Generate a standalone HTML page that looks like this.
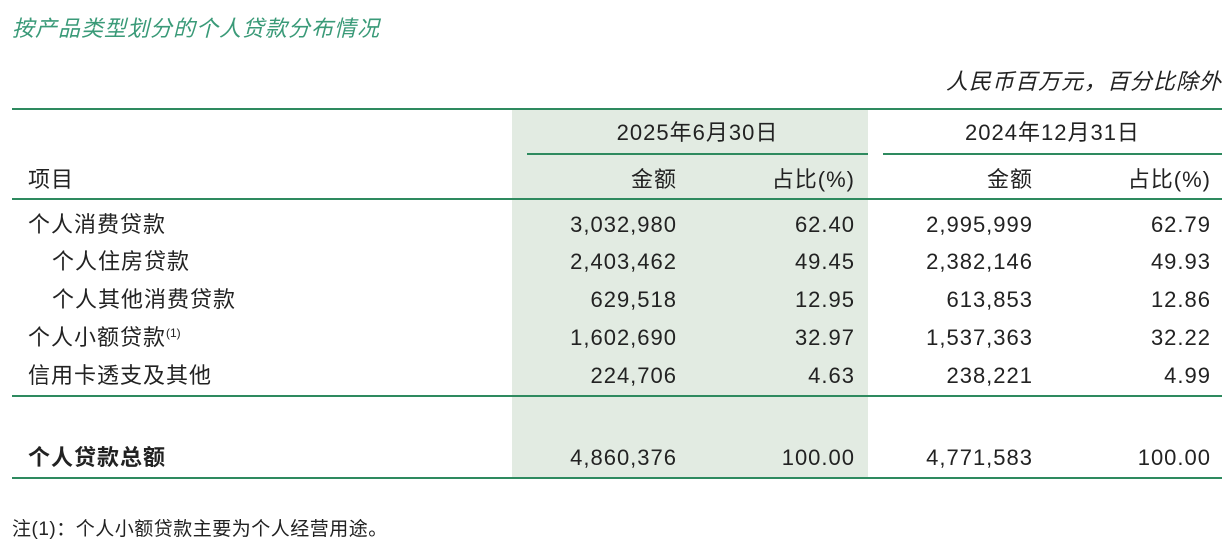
<!DOCTYPE html>
<html><head><meta charset="utf-8"><style>
body{margin:0;width:1230px;height:544px;background:#fff;position:relative;overflow:hidden;font-family:"Liberation Sans","Noto Sans CJK SC",sans-serif;color:#222;font-size:22px;letter-spacing:1px}
.a{position:absolute;white-space:nowrap;line-height:24px}
.r{text-align:right}
.l{position:absolute;height:2px;background:#2e8a5f}
sup{font-size:12px;line-height:0;vertical-align:8px;letter-spacing:0}
</style></head><body>
<div class="a" style="left:12px;top:17px;color:#3a9a78;font-style:italic;font-size:22px">按产品类型划分的个人贷款分布情况</div>
<div class="a" style="right:8px;top:70px;font-style:italic;font-size:22px;letter-spacing:1px">人民币百万元，百分比除外</div>
<div style="position:absolute;left:512px;top:110px;width:356px;height:368px;background:#e2ebe2"></div>
<div class="l" style="left:12px;top:108px;width:1210px"></div>
<div class="l" style="left:527px;top:153px;width:341px"></div>
<div class="l" style="left:883px;top:153px;width:339px"></div>
<div class="l" style="left:12px;top:198px;width:1210px"></div>
<div class="l" style="left:12px;top:395px;width:1210px"></div>
<div class="l" style="left:12px;top:477px;width:1210px"></div>
<div class="a" style="left:527px;width:341px;top:121px;text-align:center">2025年6月30日</div>
<div class="a" style="left:883px;width:339px;top:121px;text-align:center">2024年12月31日</div>
<div class="a" style="left:28px;top:168px">项目</div>
<div class="a r" style="right:553px;top:168px">金额</div>
<div class="a r" style="right:375px;top:168px">占比(%)</div>
<div class="a r" style="right:197px;top:168px">金额</div>
<div class="a r" style="right:19px;top:168px">占比(%)</div>

<div class="a" style="left:28px;top:213px">个人消费贷款</div>
<div class="a" style="left:52px;top:250px">个人住房贷款</div>
<div class="a" style="left:52px;top:288px">个人其他消费贷款</div>
<div class="a" style="left:28px;top:326px">个人小额贷款<sup>(1)</sup></div>
<div class="a" style="left:28px;top:364px">信用卡透支及其他</div>
<div class="a" style="left:28px;top:446px;font-weight:bold">个人贷款总额</div>

<div class="a r" style="right:553px;top:213px">3,032,980</div><div class="a r" style="right:375px;top:213px">62.40</div><div class="a r" style="right:197px;top:213px">2,995,999</div><div class="a r" style="right:19px;top:213px">62.79</div>
<div class="a r" style="right:553px;top:250px">2,403,462</div><div class="a r" style="right:375px;top:250px">49.45</div><div class="a r" style="right:197px;top:250px">2,382,146</div><div class="a r" style="right:19px;top:250px">49.93</div>
<div class="a r" style="right:553px;top:288px">629,518</div><div class="a r" style="right:375px;top:288px">12.95</div><div class="a r" style="right:197px;top:288px">613,853</div><div class="a r" style="right:19px;top:288px">12.86</div>
<div class="a r" style="right:553px;top:326px">1,602,690</div><div class="a r" style="right:375px;top:326px">32.97</div><div class="a r" style="right:197px;top:326px">1,537,363</div><div class="a r" style="right:19px;top:326px">32.22</div>
<div class="a r" style="right:553px;top:364px">224,706</div><div class="a r" style="right:375px;top:364px">4.63</div><div class="a r" style="right:197px;top:364px">238,221</div><div class="a r" style="right:19px;top:364px">4.99</div>
<div class="a r" style="right:553px;top:446px">4,860,376</div><div class="a r" style="right:375px;top:446px">100.00</div><div class="a r" style="right:197px;top:446px">4,771,583</div><div class="a r" style="right:19px;top:446px">100.00</div>

<div class="a" style="left:12px;top:518px;font-size:19px;letter-spacing:0.5px">注(1)：个人小额贷款主要为个人经营用途。</div>
</body></html>
